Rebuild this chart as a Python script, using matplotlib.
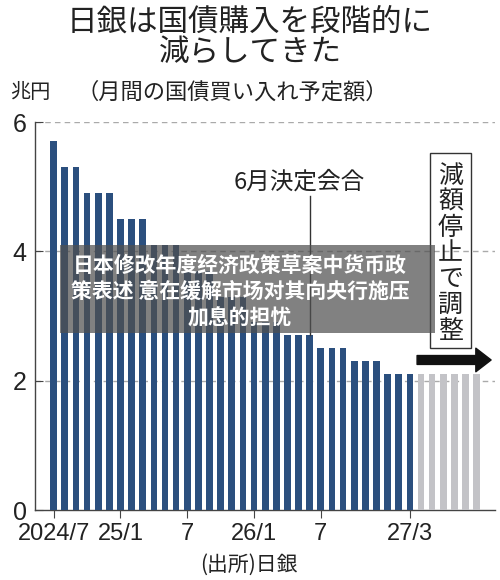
import numpy as np
import matplotlib
matplotlib.use("Agg")
import matplotlib.pyplot as plt
from matplotlib.patches import Rectangle

# monthly JGB purchase plan (trillion yen), 2024/7 .. 2027/3 actual plan, then flat
plan = [5.7, 5.3, 5.3, 4.9, 4.9, 4.9, 4.5, 4.5, 4.5, 4.1, 4.1, 4.1,
        3.7, 3.7, 3.7, 3.3, 3.3, 3.3, 2.9, 2.9, 2.9, 2.7, 2.7, 2.7,
        2.5, 2.5, 2.5, 2.3, 2.3, 2.3, 2.1, 2.1, 2.1]
after = [2.1, 2.1, 2.1, 2.1, 2.1, 2.1]
tick_idx = [0, 6, 12, 18, 24, 32]
tick_labels = ["2024/7", "25/1", "7", "26/1", "7", "27/3"]
y_ticks = [0, 2, 4, 6]
meeting_idx = 23

W, H = 500, 580
JP = ["Noto Sans CJK JP", "DejaVu Sans"]
SC = ["Noto Sans CJK SC", "DejaVu Sans"]
NUM = ["Liberation Sans Narrow", "Liberation Sans", "DejaVu Sans"]
dark = "#222222"
blue = "#2b4f7e"
grey = "#c3c3c7"

def fx(px):
    return px / W

def fy(py):
    return 1 - py / H

fig = plt.figure(figsize=(W / 100, H / 100), dpi=100)
ax = fig.add_axes([fx(35), fy(510), 460 / W, 388 / H])

n = len(plan)
x1 = np.arange(n)
x2 = np.arange(n, n + len(after))
ax.bar(x1, plan, width=0.6, color=blue, zorder=3)
ax.bar(x2, after, width=0.6, color=grey, zorder=3)

ax.set_xlim(-1.68, 39.65)
ax.set_ylim(0, 6)
for v in y_ticks[1:]:
    ax.axhline(v, color="#aaaaaa", lw=1, ls=(0, (4, 3)), zorder=1)

for s in ["top", "right"]:
    ax.spines[s].set_visible(False)
for s in ["left", "bottom"]:
    ax.spines[s].set_color("#444444")
    ax.spines[s].set_linewidth(1)

ax.set_yticks(y_ticks)
ax.set_yticklabels([str(v) for v in y_ticks], family=NUM, fontsize=18, color=dark)
ax.tick_params(axis="y", direction="in", length=6, color="#444444", pad=6)
ax.set_xticks(tick_idx)
ax.set_xticklabels(tick_labels, family=NUM, fontsize=17, color=dark)
ax.tick_params(axis="x", direction="out", length=6, color="#444444", pad=3)

# meeting marker line + label
ax.plot([meeting_idx, meeting_idx], [plan[meeting_idx], 4.85], color="#333333", lw=1, zorder=4)
fig.text(fx(299), fy(182), "6月決定会合", family=JP, fontsize=17, color=dark,
         ha="center", va="center")

# boxed vertical note
fig.patches.append(Rectangle((fx(430), fy(348)), 41 / W, 195 / H, transform=fig.transFigure,
                             fill=False, ec="#333333", lw=1))
for i, ch in enumerate("減額停止で調整"):
    fig.text(fx(450.5), fy(176 + i * 25.8), ch, family=JP, fontsize=18, color=dark,
             ha="center", va="center")

# arrow
ax.annotate("", xy=(39.55, 2.32), xytext=(32.4, 2.32),
            arrowprops=dict(arrowstyle="simple,head_width=0.85,head_length=0.55,tail_width=0.32",
                            mutation_scale=20, fc="#111111", ec="#111111"))

# titles
fig.text(0.5, fy(22), "日銀は国債購入を段階的に", family=JP, fontsize=22, color=dark,
         ha="center", va="center")
fig.text(0.5, fy(53), "減らしてきた", family=JP, fontsize=22, color=dark,
         ha="center", va="center")
fig.text(fx(10), fy(92), "兆円", family=JP, fontsize=14.5, color=dark, ha="left", va="center")
fig.text(fx(76), fy(92), "（月間の国債買い入れ予定額）", family=JP, fontsize=16, color=dark,
         ha="left", va="center")
fig.text(fx(200), fy(565), "(出所)日銀", family=JP, fontsize=15, color=dark,
         ha="left", va="center")

# overlay caption
fig.patches.append(Rectangle((fx(60), fy(333)), 375 / W, 88 / H, transform=fig.transFigure,
                             fc="#505050", ec="none", alpha=0.72, zorder=5))
caption = ["日本修改年度经济政策草案中货币政", "策表述 意在缓解市场对其向央行施压", "加息的担忧"]
for i, line in enumerate(caption):
    fig.text(fx(240), fy(265 + i * 26.5), line, family=SC, fontsize=15, fontweight="bold",
             color="white", ha="center", va="center", zorder=6)

fig.savefig("out.png", dpi=100)
